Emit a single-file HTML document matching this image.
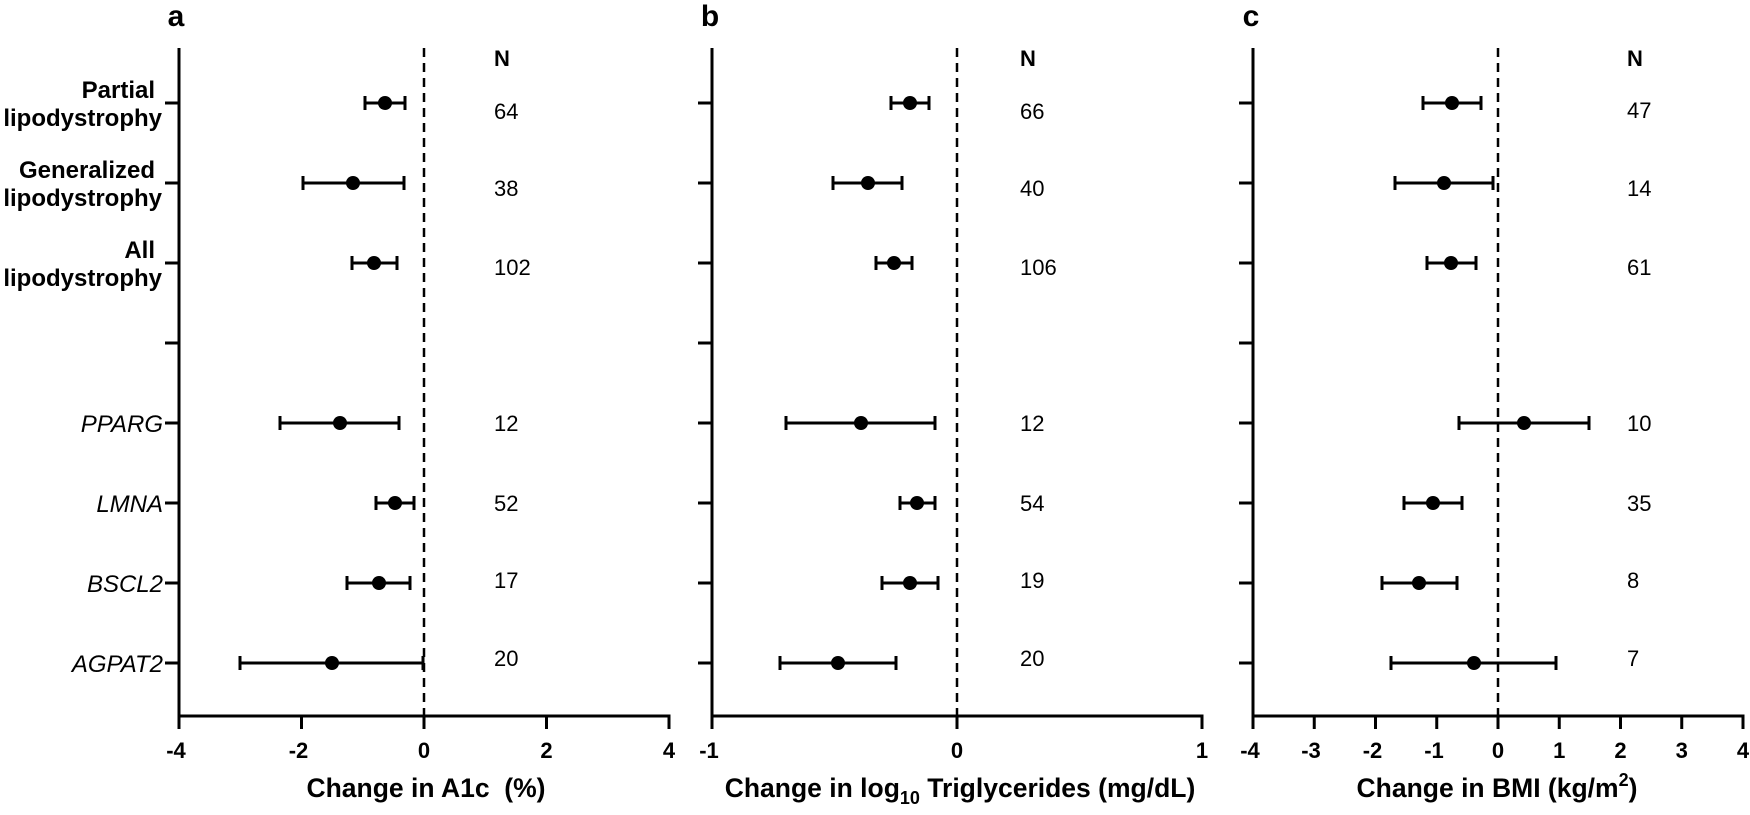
<!DOCTYPE html>
<html><head><meta charset="utf-8"><style>
html,body{margin:0;padding:0;background:#fff;}
svg{display:block;font-family:"Liberation Sans",Arial,sans-serif;}
</style></head><body>
<svg width="1750" height="815" viewBox="0 0 1750 815" xmlns="http://www.w3.org/2000/svg">
<g stroke="#000" fill="none" stroke-width="3">
<!-- Panel a -->
<line x1="179" y1="48" x2="179" y2="716"/>
<line x1="177.5" y1="716" x2="670.5" y2="716"/>
<line x1="179" y1="716" x2="179" y2="729"/><line x1="301.5" y1="716" x2="301.5" y2="729"/><line x1="424" y1="716" x2="424" y2="729"/><line x1="546.5" y1="716" x2="546.5" y2="729"/><line x1="669" y1="716" x2="669" y2="729"/>
<line x1="165" y1="103" x2="179" y2="103"/><line x1="165" y1="183" x2="179" y2="183"/><line x1="165" y1="263" x2="179" y2="263"/><line x1="165" y1="343" x2="179" y2="343"/><line x1="165" y1="423" x2="179" y2="423"/><line x1="165" y1="503" x2="179" y2="503"/><line x1="165" y1="583" x2="179" y2="583"/><line x1="165" y1="663" x2="179" y2="663"/>
<line x1="424" y1="48" x2="424" y2="716" stroke-width="2.5" stroke-dasharray="9,6"/>
<!-- Panel b -->
<line x1="712" y1="48" x2="712" y2="716"/>
<line x1="710.5" y1="716" x2="1203.5" y2="716"/>
<line x1="712" y1="716" x2="712" y2="729"/><line x1="957" y1="716" x2="957" y2="729"/><line x1="1202" y1="716" x2="1202" y2="729"/>
<line x1="698" y1="103" x2="712" y2="103"/><line x1="698" y1="183" x2="712" y2="183"/><line x1="698" y1="263" x2="712" y2="263"/><line x1="698" y1="343" x2="712" y2="343"/><line x1="698" y1="423" x2="712" y2="423"/><line x1="698" y1="503" x2="712" y2="503"/><line x1="698" y1="583" x2="712" y2="583"/><line x1="698" y1="663" x2="712" y2="663"/>
<line x1="957" y1="48" x2="957" y2="716" stroke-width="2.5" stroke-dasharray="9,6"/>
<!-- Panel c -->
<line x1="1253" y1="48" x2="1253" y2="716"/>
<line x1="1251.5" y1="716" x2="1744.5" y2="716"/>
<line x1="1253" y1="716" x2="1253" y2="729"/><line x1="1314.25" y1="716" x2="1314.25" y2="729"/><line x1="1375.5" y1="716" x2="1375.5" y2="729"/><line x1="1436.75" y1="716" x2="1436.75" y2="729"/><line x1="1498" y1="716" x2="1498" y2="729"/><line x1="1559.25" y1="716" x2="1559.25" y2="729"/><line x1="1620.5" y1="716" x2="1620.5" y2="729"/><line x1="1681.75" y1="716" x2="1681.75" y2="729"/><line x1="1743" y1="716" x2="1743" y2="729"/>
<line x1="1239" y1="103" x2="1253" y2="103"/><line x1="1239" y1="183" x2="1253" y2="183"/><line x1="1239" y1="263" x2="1253" y2="263"/><line x1="1239" y1="343" x2="1253" y2="343"/><line x1="1239" y1="423" x2="1253" y2="423"/><line x1="1239" y1="503" x2="1253" y2="503"/><line x1="1239" y1="583" x2="1253" y2="583"/><line x1="1239" y1="663" x2="1253" y2="663"/>
<line x1="1498" y1="48" x2="1498" y2="716" stroke-width="2.5" stroke-dasharray="9,6"/>
</g>

<g stroke="#000" stroke-width="3" fill="none">
<path d="M365,103H405M365,96V110M405,96V110"/>
<path d="M303,183H404M303,176V190M404,176V190"/>
<path d="M352,263H397M352,256V270M397,256V270"/>
<path d="M280,423H399M280,416V430M399,416V430"/>
<path d="M376,503H414M376,496V510M414,496V510"/>
<path d="M347,583H410M347,576V590M410,576V590"/>
<path d="M240,663H423M240,656V670M423,656V670"/>
<path d="M891,103H929M891,96V110M929,96V110"/>
<path d="M833,183H902M833,176V190M902,176V190"/>
<path d="M876,263H912M876,256V270M912,256V270"/>
<path d="M786,423H935M786,416V430M935,416V430"/>
<path d="M900,503H935M900,496V510M935,496V510"/>
<path d="M882,583H938M882,576V590M938,576V590"/>
<path d="M780,663H896M780,656V670M896,656V670"/>
<path d="M1423,103H1481M1423,96V110M1481,96V110"/>
<path d="M1395,183H1493M1395,176V190M1493,176V190"/>
<path d="M1427,263H1476M1427,256V270M1476,256V270"/>
<path d="M1459,423H1589M1459,416V430M1589,416V430"/>
<path d="M1404,503H1462M1404,496V510M1462,496V510"/>
<path d="M1382,583H1457M1382,576V590M1457,576V590"/>
<path d="M1391,663H1556M1391,656V670M1556,656V670"/>
</g>
<g fill="#000">
<circle cx="385" cy="103" r="7"/><circle cx="353" cy="183" r="7"/><circle cx="374" cy="263" r="7"/><circle cx="340" cy="423" r="7"/><circle cx="395" cy="503" r="7"/><circle cx="379" cy="583" r="7"/><circle cx="332" cy="663" r="7"/>
<circle cx="910" cy="103" r="7"/><circle cx="868" cy="183" r="7"/><circle cx="894" cy="263" r="7"/><circle cx="861" cy="423" r="7"/><circle cx="917" cy="503" r="7"/><circle cx="910" cy="583" r="7"/><circle cx="838" cy="663" r="7"/>
<circle cx="1452" cy="103" r="7"/><circle cx="1444" cy="183" r="7"/><circle cx="1451" cy="263" r="7"/><circle cx="1524" cy="423" r="7"/><circle cx="1433" cy="503" r="7"/><circle cx="1419" cy="583" r="7"/><circle cx="1474" cy="663" r="7"/>
</g>

<g fill="#000">
<g font-size="30" font-weight="bold" text-anchor="middle">
<text x="176" y="26">a</text><text x="710" y="26">b</text><text x="1251" y="26">c</text>
</g>
<g font-size="24" font-weight="bold" text-anchor="end">
<text x="155" y="98">Partial</text><text x="162" y="126">lipodystrophy</text>
<text x="155" y="178">Generalized</text><text x="162" y="206">lipodystrophy</text>
<text x="155" y="258">All</text><text x="162" y="286">lipodystrophy</text>
</g>
<g font-size="24" font-style="italic" text-anchor="end">
<text x="163" y="432">PPARG</text><text x="163" y="512">LMNA</text><text x="163" y="592">BSCL2</text><text x="163" y="672">AGPAT2</text>
</g>
<g font-size="22" font-weight="bold" text-anchor="middle">
<text x="502" y="66">N</text><text x="1028" y="66">N</text><text x="1635" y="66">N</text>
</g>
<g font-size="22">
<text x="494" y="119">64</text><text x="494" y="196">38</text><text x="494" y="275">102</text>
<text x="494" y="431">12</text><text x="494" y="511">52</text><text x="494" y="588">17</text><text x="494" y="666">20</text>
<text x="1020" y="119">66</text><text x="1020" y="196">40</text><text x="1020" y="275">106</text>
<text x="1020" y="431">12</text><text x="1020" y="511">54</text><text x="1020" y="588">19</text><text x="1020" y="666">20</text>
<text x="1627" y="118">47</text><text x="1627" y="196">14</text><text x="1627" y="275">61</text>
<text x="1627" y="431">10</text><text x="1627" y="511">35</text><text x="1627" y="588">8</text><text x="1627" y="666">7</text>
</g>
<g font-size="22" font-weight="bold" text-anchor="middle">
<text x="176" y="758">-4</text><text x="298.5" y="758">-2</text><text x="424" y="758">0</text><text x="546.5" y="758">2</text><text x="669" y="758">4</text>
<text x="709" y="758">-1</text><text x="957" y="758">0</text><text x="1202" y="758">1</text>
<text x="1250" y="758">-4</text><text x="1311" y="758">-3</text><text x="1372.5" y="758">-2</text><text x="1434" y="758">-1</text><text x="1498" y="758">0</text><text x="1559.25" y="758">1</text><text x="1620.5" y="758">2</text><text x="1681.75" y="758">3</text><text x="1743" y="758">4</text>
</g>
<g font-size="26.5" font-weight="bold" text-anchor="middle">
<text x="426" y="797" xml:space="preserve">Change in A1c  (%)</text>
<text x="960" y="797">Change in log<tspan font-size="18" dy="7">10</tspan><tspan dy="-7"> Triglycerides (mg/dL)</tspan></text>
<text x="1497" y="797">Change in BMI (kg/m<tspan font-size="18" dy="-11">2</tspan><tspan dy="11">)</tspan></text>
</g>
</g>
</svg>
</body></html>
